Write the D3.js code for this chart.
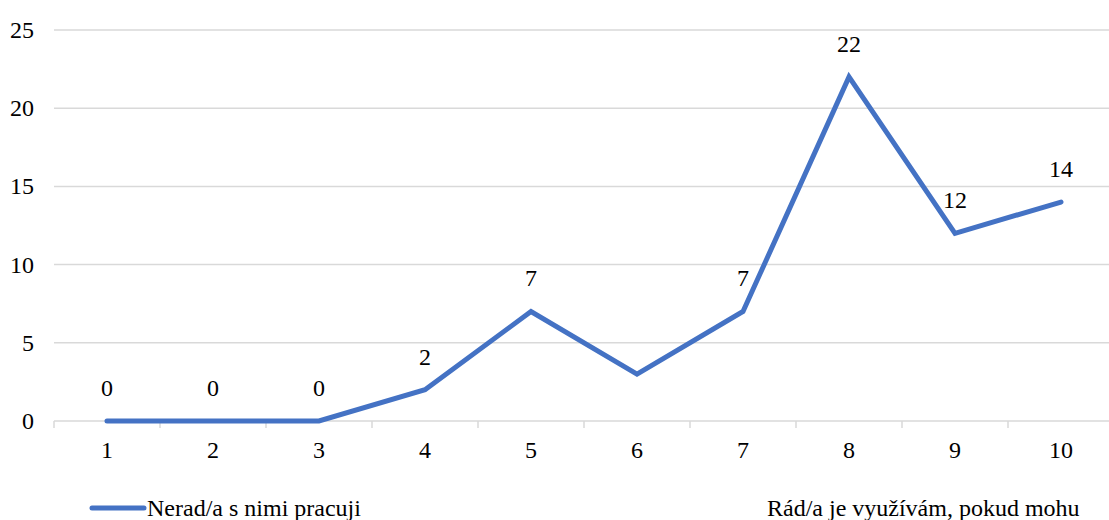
<!DOCTYPE html>
<html><head><meta charset="utf-8">
<script src="https://cdn.jsdelivr.net/npm/d3@7"></script>
</head><body style="margin:0;background:#fff">
<svg id="c" width="1109" height="520" style="display:block"></svg>
<script>
const categories = ["1","2","3","4","5","6","7","8","9","10"];
const values = [0,0,0,2,7,3,7,22,12,14];
const dataLabels = ["0","0","0","2","7",null,"7","22","12","14"];
const yTicks = [0,5,10,15,20,25];
const seriesNames = ["Nerad/a s nimi pracuji","Rád/a je využívám, pokud mohu"];

const svg = d3.select("#c");
const fs = 24;
const x = d3.scaleBand().domain(categories).range([54, 1114]);
const y = d3.scaleLinear().domain([0,25]).range([421, 30]);
const T = sel => sel.attr("font-family","Liberation Serif").attr("font-size",fs).attr("fill","#000");

svg.append("g").selectAll("line").data(yTicks.filter(d=>d>0)).join("line")
  .attr("x1",54).attr("x2",1114).attr("y1",d=>y(d)).attr("y2",d=>y(d))
  .attr("stroke","#d9d9d9").attr("stroke-width",1.5);

svg.append("g").selectAll("text").data(yTicks).join("text")
  .attr("x",34).attr("y",d=>y(d)).attr("dy","0.33em").attr("text-anchor","end")
  .call(T).text(d=>d);

const xAxis = d3.axisBottom(x).tickSize(0).tickPadding(0);
const gx = svg.append("g").attr("transform",`translate(0,${y(0)})`).call(xAxis);
gx.attr("font-family","Liberation Serif").attr("font-size",fs);
gx.select(".domain").remove();
gx.selectAll("text").attr("y",29).attr("dy","0.33em").call(T);
svg.append("line").attr("x1",54).attr("x2",1114).attr("y1",y(0)).attr("y2",y(0))
  .attr("stroke","#d9d9d9").attr("stroke-width",1.5);
const bounds = categories.map(c=>x(c)).concat([x(categories[categories.length-1])+x.bandwidth()]);
svg.append("g").selectAll("line").data(bounds).join("line")
  .attr("x1",d=>d).attr("x2",d=>d).attr("y1",y(0)).attr("y2",y(0)+7)
  .attr("stroke","#d9d9d9").attr("stroke-width",1.5);

const cx = c => x(c) + x.bandwidth()/2;
const line = d3.line().x((d,i)=>cx(categories[i])).y(d=>y(d));
svg.append("path").datum(values).attr("d",line).attr("fill","none")
  .attr("stroke","#4472C4").attr("stroke-width",5).attr("stroke-linejoin","miter").attr("stroke-linecap","round");

svg.append("g").selectAll("text").data(values.map((v,i)=>({v,i,l:dataLabels[i]})).filter(d=>d.l!==null)).join("text")
  .attr("x",d=>cx(categories[d.i])).attr("y",d=>y(d.v)-33).attr("dy","0.33em")
  .attr("text-anchor","middle").call(T).text(d=>d.l);

svg.append("line").attr("x1",92).attr("x2",144).attr("y1",508).attr("y2",508)
  .attr("stroke","#4472C4").attr("stroke-width",5).attr("stroke-linecap","round");
svg.append("text").attr("x",147).attr("y",508).attr("dy","0.33em").call(T).text(seriesNames[0]);
svg.append("text").attr("x",767).attr("y",508).attr("dy","0.33em").call(T).text(seriesNames[1]);
</script></body></html>
